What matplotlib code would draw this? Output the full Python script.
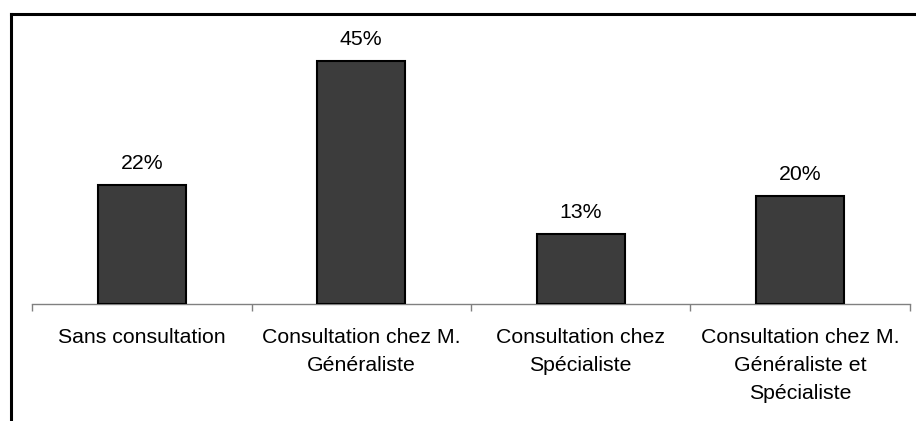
import matplotlib
matplotlib.use('Agg')
import matplotlib.pyplot as plt
from matplotlib.lines import Line2D

categories = ['Sans consultation',
              'Consultation chez M.\nGénéraliste',
              'Consultation chez\nSpécialiste',
              'Consultation chez M.\nGénéraliste et\nSpécialiste']
values = [22, 45, 13, 20]
value_labels = ['22%', '45%', '13%', '20%']

plt.rcParams['font.family'] = ['Liberation Sans', 'DejaVu Sans']

W, H = 916, 421
fig = plt.figure(figsize=(W / 100, H / 100), dpi=100)
ax = fig.add_axes([32 / W, 1 - 304 / H, (910 - 32) / W, (304 - 34) / H])

x = list(range(len(values)))
ax.bar(x, values, width=0.4, color='#3c3c3c', edgecolor='black', linewidth=1.5, zorder=3)
for xi, v, lab in zip(x, values, value_labels):
    ax.annotate(lab, (xi, v), xytext=(0, 15.5), textcoords='offset points',
                ha='center', va='center', fontsize=15.3)

ax.set_xlim(-0.5, len(values) - 0.5)
ax.set_ylim(0, 50)
for s in ['top', 'right', 'left']:
    ax.spines[s].set_visible(False)
ax.spines['bottom'].set_color('#808080')
ax.spines['bottom'].set_linewidth(1)
ax.set_yticks([])

# category boundaries as ticks, labels centred in between
ax.set_xticks([i - 0.5 for i in range(len(values) + 1)])
ax.set_xticklabels([])
ax.tick_params(axis='x', direction='out', length=5, color='#808080', width=1)
for xi, c in zip(x, categories):
    ax.annotate(c, (xi, 0), xytext=(0, -17), textcoords='offset points',
                ha='center', va='top', fontsize=15.3, linespacing=1.62)

# outer frame (cropped: only top and left visible)
fig.add_artist(Line2D([11 / W, 1], [1 - 14 / H, 1 - 14 / H], color='black', linewidth=2.2))
fig.add_artist(Line2D([11 / W, 11 / W], [0, 1 - 14 / H], color='black', linewidth=2.2))

fig.savefig('out.png', dpi=100)
